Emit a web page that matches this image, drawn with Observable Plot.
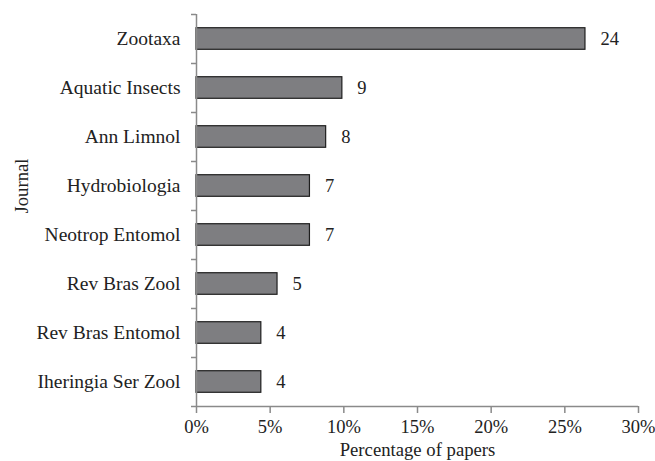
<!DOCTYPE html>
<html>
<head>
<meta charset="utf-8">
<script src="https://cdn.jsdelivr.net/npm/d3@7"></script>
<script src="https://cdn.jsdelivr.net/npm/@observablehq/plot@0.6"></script>
<style>
  html, body { margin: 0; padding: 0; background: #fff; }
  #chart svg { display: block; font-family: 'Liberation Serif', 'Times New Roman', serif; }
  #chart svg text { font-family: 'Liberation Serif', 'Times New Roman', serif; }
</style>
</head>
<body>
<div id="chart"></div>
<script>
const journals = ["Zootaxa", "Aquatic Insects", "Ann Limnol", "Hydrobiologia", "Neotrop Entomol", "Rev Bras Zool", "Rev Bras Entomol", "Iheringia Ser Zool"];
const percents = [0.264, 0.099, 0.088, 0.077, 0.077, 0.055, 0.044, 0.044];
const counts = [24, 9, 8, 7, 7, 5, 4, 4];
const xTicks = [0, 0.05, 0.10, 0.15, 0.20, 0.25, 0.30];

const data = journals.map((j, i) => ({journal: j, pct: percents[i], n: counts[i]}));

const W = 655, H = 461, mT = 14, mB = 55, mL = 196, mR = 17;
const step = (H - mT - mB) / journals.length;
const axisColor = "#8a8a8a";
const textColor = "#222222";
const serif = "'Liberation Serif', 'Times New Roman', serif";
const last = journals[journals.length - 1];

const plot = Plot.plot({
  width: W, height: H,
  marginTop: mT, marginBottom: mB, marginLeft: mL, marginRight: mR,
  style: {fontFamily: serif, fontSize: "18px", color: textColor, background: "#fff"},
  x: {domain: [0, 0.30]},
  y: {domain: journals, paddingInner: 0.56, paddingOuter: 0.28, round: false},
  marks: [
    Plot.barX(data, {x: "pct", y: "journal", fill: "#7e7e81", stroke: "#1e1e1e", strokeWidth: 1.2}),
    Plot.text(data, {x: "pct", y: "journal", text: d => String(d.n), dx: 15, textAnchor: "start", fontSize: 18.5, fontFamily: serif, fill: textColor}),
    Plot.ruleX([0], {stroke: axisColor, strokeWidth: 1.5}),
    Plot.ruleY([last], {dy: step / 2, stroke: axisColor, strokeWidth: 1.5}),
    Plot.axisX({ticks: xTicks, tickFormat: d3.format(".0%"), tickSize: 7, tickPadding: 6, stroke: axisColor, strokeWidth: 1.5, fontSize: 18.5, fontFamily: serif, fill: textColor, label: null}),
    Plot.axisY({tickSize: 0, tickPadding: 16, fontSize: 19.5, fontFamily: serif, fill: textColor, label: null}),
    Plot.axisY({tickSize: 5, tickFormat: () => "", dy: -step / 2, stroke: axisColor, strokeWidth: 1.5, label: null}),
    Plot.axisY({ticks: [last], tickSize: 5, tickFormat: () => "", dy: step / 2, stroke: axisColor, strokeWidth: 1.5, label: null}),
    Plot.text(["Percentage of papers"], {frameAnchor: "bottom", dy: 44, fontSize: 18.7, fontFamily: serif, fill: textColor, lineAnchor: "middle"}),
    Plot.text(["Journal"], {frameAnchor: "left", rotate: -90, dx: -174, dy: 3, fontSize: 18.7, fontFamily: serif, fill: textColor})
  ]
});
document.getElementById("chart").appendChild(plot);
</script>
</body>
</html>
